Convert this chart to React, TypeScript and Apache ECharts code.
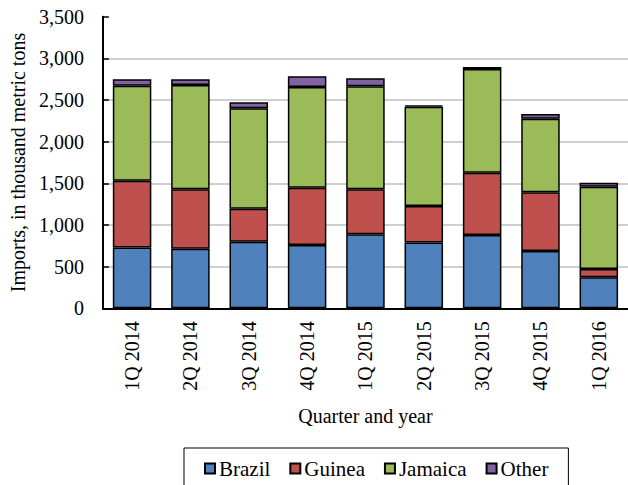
import React, { useEffect, useRef } from "react";
import * as echarts from "echarts";

const categories = ["1Q 2014", "2Q 2014", "3Q 2014", "4Q 2014", "1Q 2015", "2Q 2015", "3Q 2015", "4Q 2015", "1Q 2016"];
const brazil = [730, 715, 800, 760, 890, 790, 880, 688, 372];
const guinea = [800, 713, 395, 687, 538, 438, 748, 704, 100];
const jamaica = [1140, 1252, 1205, 1209, 1236, 1192, 1244, 884, 988];
const other = [80, 68, 72, 128, 96, 15, 25, 56, 48];
const yTicks = [0, 500, 1000, 1500, 2000, 2500, 3000, 3500];

const FONT = "Liberation Serif";

export default function App() {
  const ref = useRef<HTMLDivElement>(null);
  useEffect(() => {
    document.body.style.margin = "0";
    const chart = echarts.init(ref.current!, undefined, { renderer: "svg" });
    const mk = (name: string, data: number[], color: string) => ({
      name,
      type: "bar",
      stack: "total",
      data,
      barCategoryGap: "34%",
      itemStyle: { color, borderColor: "#000", borderWidth: 1.5 },
    });
    chart.setOption({
      animation: false,
      textStyle: { fontFamily: FONT, color: "#000" },
      grid: { left: 102, top: 16.7, width: 528, height: 291.6, containLabel: false },
      legend: {
        left: 184,
        top: 448,
        padding: [10, 20, 10, 20],
        borderColor: "#000",
        borderWidth: 1,
        itemWidth: 10,
        itemHeight: 10,
        itemGap: 19,
        icon: "rect",
        textStyle: { fontFamily: FONT, fontSize: 21, color: "#000", padding: [0, 0, 0, -1] },
        data: ["Brazil", "Guinea", "Jamaica", "Other"],
      },
      xAxis: {
        type: "category",
        data: categories,
        name: "Quarter and year",
        nameLocation: "middle",
        nameGap: 98,
        nameTextStyle: { fontFamily: FONT, fontSize: 20, color: "#000" },
        axisLine: { lineStyle: { color: "#000", width: 2 } },
        axisTick: { inside: true, length: 5, lineStyle: { color: "#000", width: 1.5 } },
        axisLabel: { rotate: 90, margin: 13, fontFamily: FONT, fontSize: 20, color: "#000" },
      },
      yAxis: {
        type: "value",
        min: yTicks[0],
        max: yTicks[yTicks.length - 1],
        interval: 500,
        name: "Imports, in thousand metric tons",
        nameLocation: "middle",
        nameGap: 62,
        nameTextStyle: { fontFamily: FONT, fontSize: 20, color: "#000" },
        axisLine: { show: true, lineStyle: { color: "#000", width: 2 } },
        axisTick: { show: true, inside: true, length: 6, lineStyle: { color: "#000", width: 1.5 } },
        axisLabel: {
          margin: 19,
          fontFamily: FONT,
          fontSize: 20,
          color: "#000",
          formatter: (v: number) => v.toLocaleString("en-US"),
        },
        splitLine: { show: true, showMaxLine: false, lineStyle: { color: "#BFBFBF", width: 1.5 } },
      },
      series: [
        mk("Brazil", brazil, "#4F81BD"),
        mk("Guinea", guinea, "#C0504D"),
        mk("Jamaica", jamaica, "#9BBB59"),
        mk("Other", other, "#8064A2"),
      ],
    });
    return () => chart.dispose();
  }, []);
  return <div ref={ref} style={{ width: 628, height: 485 }} />;
}
